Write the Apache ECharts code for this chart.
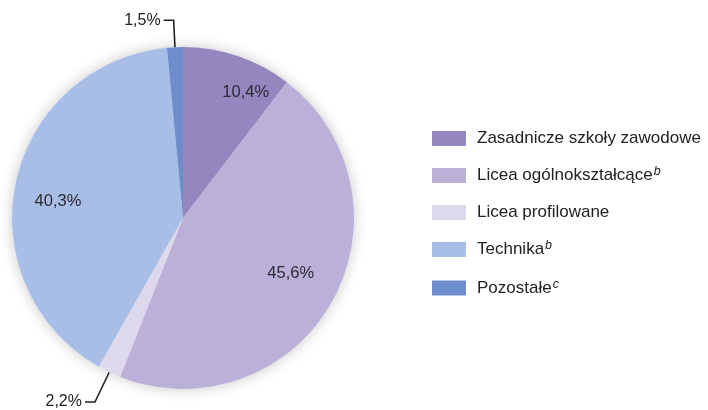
<!DOCTYPE html>
<html><head><meta charset="utf-8">
<script src="https://cdn.jsdelivr.net/npm/echarts@6/dist/echarts.min.js"></script>
<style>html,body{margin:0;padding:0;background:#fff}#c{width:708px;height:410px}</style>
</head><body><div id="c"></div>
<script>
const categories = ['Zasadnicze szkoły zawodowe', 'Licea ogólnokształcące', 'Licea profilowane', 'Technika', 'Pozostałe'];
const values = [10.4, 45.6, 2.2, 40.3, 1.5];
const footnotes = ['', 'b', '', 'b', 'c'];
const colors = ['#9486be', '#bab0d8', '#ddd8ec', '#a9bee6', '#6f8dcc'];
const outsideLabel = [false, false, true, false, true];
// label nudges [dx, dy] from the default inside position
const labelNudge = [[20, 0], [-8, -10], null, [5, 11], null];

const fmt = v => v.toFixed(1).replace('.', ',') + '%';
const chart = echarts.init(document.getElementById('c'));
const center = [183, 218];
const R = 171;
const font = '"Liberation Sans", Arial, sans-serif';

chart.setOption({
  animation: false,
  legend: {
    orient: 'vertical', left: 432, top: 130, padding: 0,
    itemWidth: 34, itemHeight: 15, itemGap: 18.5,
    icon: 'rect',
    data: categories.map((n, i) => ({ name: n, itemStyle: { color: colors[i] } })),
    formatter: name => {
      const i = categories.indexOf(name);
      return '{n|' + name + '}' + (footnotes[i] ? '{s|' + footnotes[i] + '}' : '');
    },
    textStyle: {
      fontFamily: font, color: '#222', lineHeight: 15,
      rich: {
        n: { fontSize: 17, lineHeight: 15, fontFamily: font, color: '#222', padding: [0, 0, 0, 6] },
        s: { fontSize: 12.5, lineHeight: 12, fontStyle: 'italic', fontFamily: font, color: '#222', padding: [0, 0, 7, 1] }
      }
    }
  },
  series: [
    {
      type: 'pie', z: 1, silent: true, center: center, radius: R, startAngle: 90,
      label: { show: false }, labelLine: { show: false },
      itemStyle: { color: '#fff', shadowBlur: 14, shadowColor: 'rgba(0,0,0,0.22)' },
      data: categories.map((n, i) => ({ name: n, value: values[i] }))
    },
    {
      type: 'pie', z: 3, center: center, radius: R, startAngle: 90, clockwise: true,
      avoidLabelOverlap: false,
      emphasis: { disabled: true },
      label: { show: false },
      data: categories.map((n, i) => ({
        name: n, value: values[i],
        itemStyle: { color: colors[i] },
        label: outsideLabel[i] ? {
          show: true, position: 'outside', formatter: p => fmt(p.value),
          fontFamily: font, fontSize: 16, color: '#222', distanceToLabelLine: 3
        } : { show: false },
        labelLine: outsideLabel[i] ? {
          show: true, length: i === 2 ? 33 : 27, length2: 10, smooth: false,
          lineStyle: { color: '#222', width: 1.6 }
        } : { show: false }
      }))
    },
    {
      type: 'pie', z: 4, silent: true, center: center, radius: [96, 164], startAngle: 90, clockwise: true,
      itemStyle: { color: 'rgba(0,0,0,0)' },
      labelLine: { show: false },
      label: { show: false },
      data: categories.map((n, i) => ({
        name: n, value: values[i],
        label: outsideLabel[i] ? { show: false } : {
          show: true, position: 'inside', formatter: p => fmt(p.value),
          fontFamily: font, fontSize: 16.5, color: '#2a2a33',
          offset: labelNudge[i] || [0, 0]
        }
      }))
    }
  ]
});
</script></body></html>
